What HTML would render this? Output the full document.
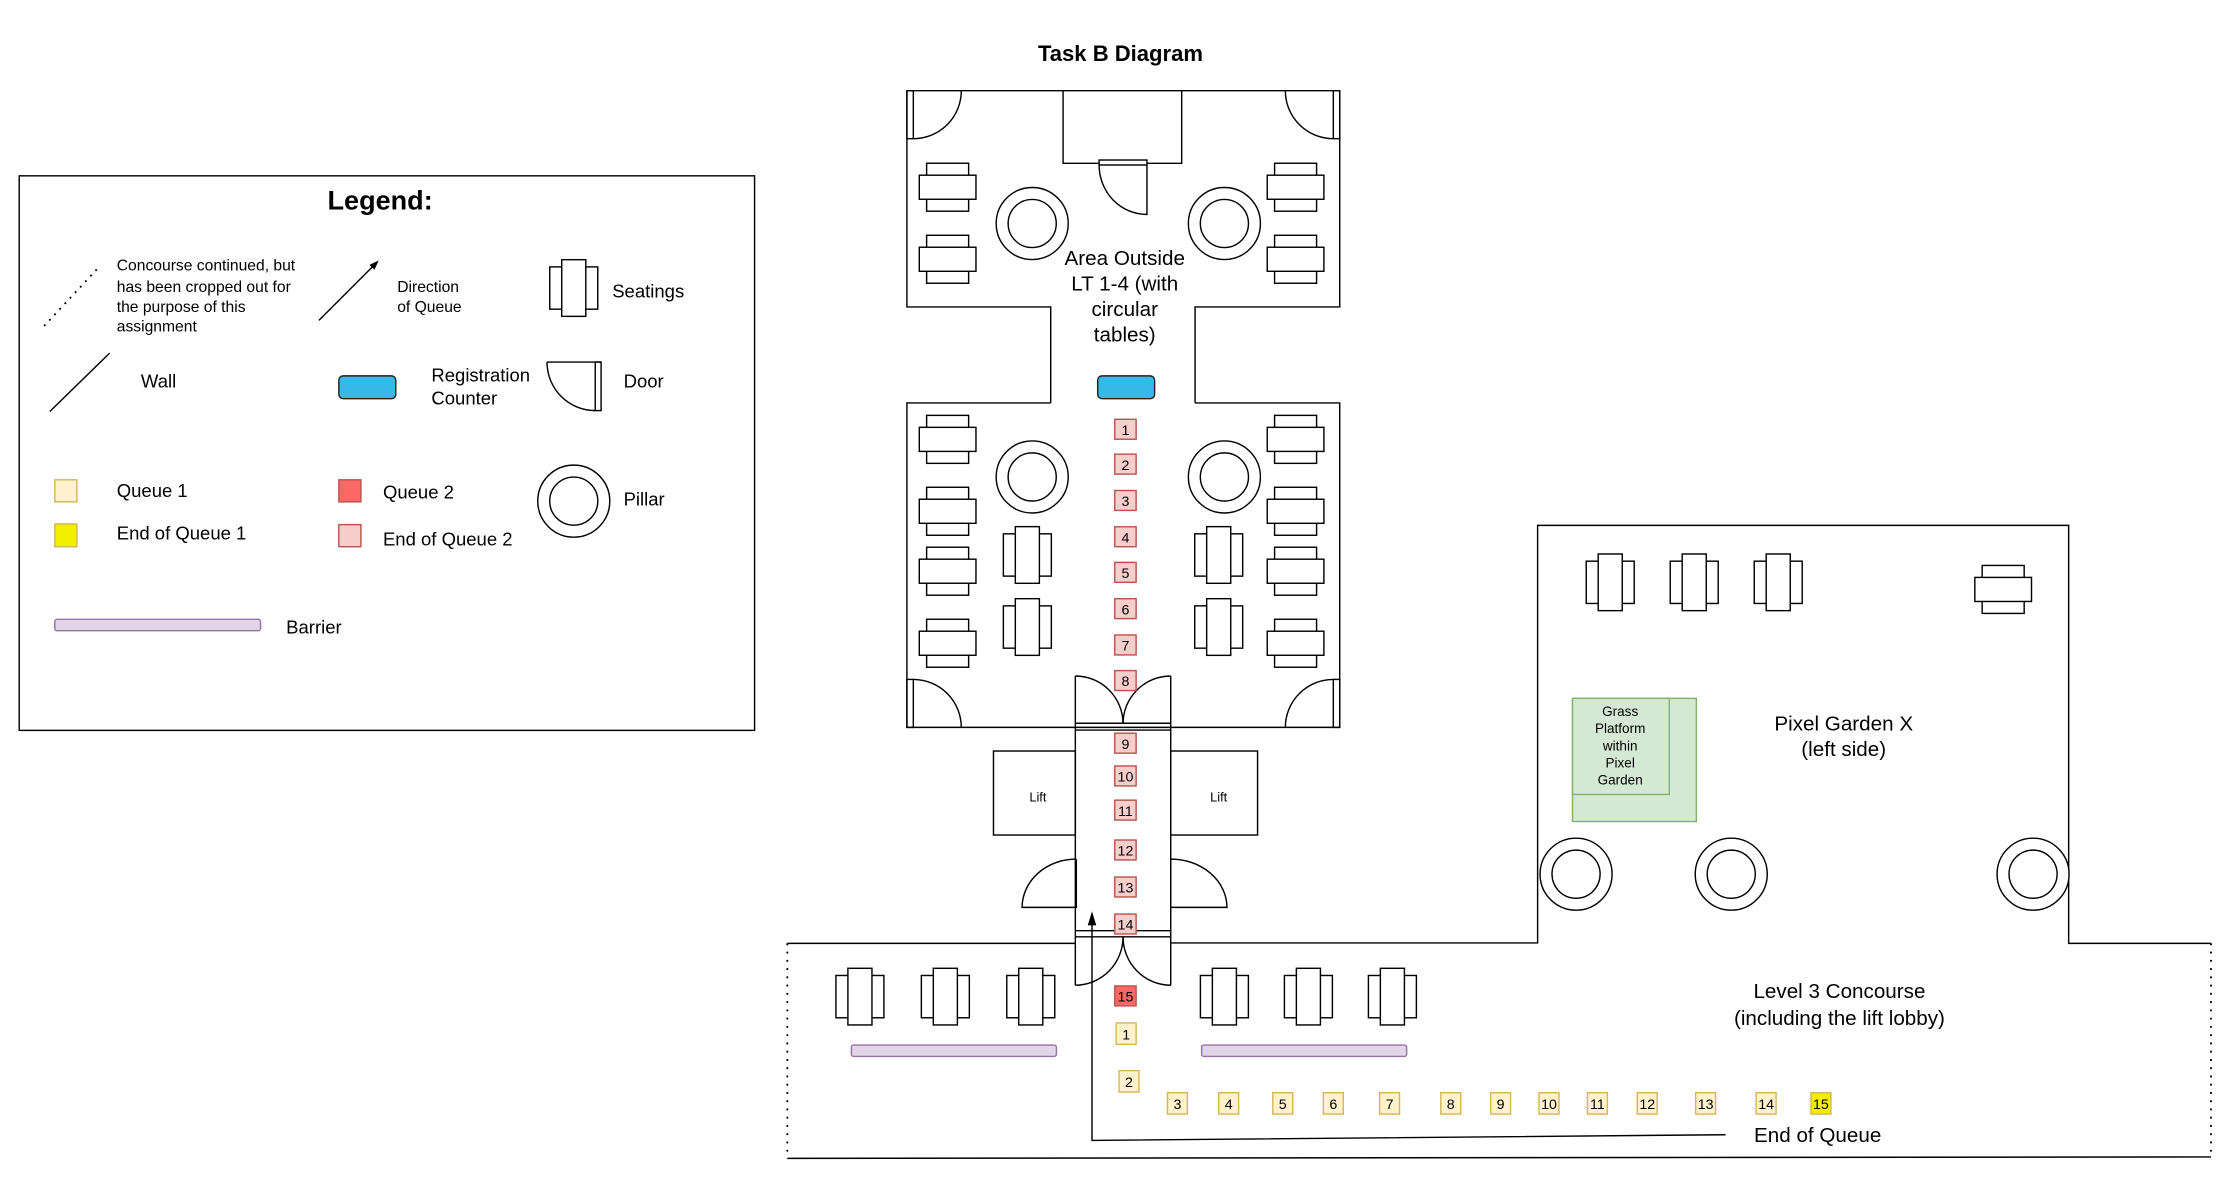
<!DOCTYPE html>
<html><head><meta charset="utf-8"><style>
html,body{margin:0;padding:0;background:#fff;}
svg{display:block;}
text{font-family:"Liberation Sans",Arial,sans-serif;fill:#000;}
</style></head><body>
<svg width="2221" height="1181" viewBox="0 0 1560 829.5" preserveAspectRatio="none" xmlns="http://www.w3.org/2000/svg">
<defs>
<g id="sh" fill="#fff" stroke="#000" stroke-width="1"><rect x="-14.75" y="-16.85" width="29.5" height="33.7"/><rect x="-19.9" y="-8.45" width="39.8" height="16.9"/></g>
<g id="sv" fill="#fff" stroke="#000" stroke-width="1"><rect x="-16.85" y="-14.85" width="33.7" height="29.7"/><rect x="-8.45" y="-19.9" width="16.9" height="39.8"/></g>
<g id="pil" fill="#fff" stroke="#000" stroke-width="1"><circle r="25.3"/><circle r="16.9"/></g>
</defs>

<!-- Legend -->
<rect x="13.5" y="123.5" width="516.5" height="389.5" fill="#fff" stroke="#000" stroke-width="1"/>
<text x="267" y="147" font-size="19" font-weight="bold" text-anchor="middle">Legend:</text>
<line x1="31" y1="229" x2="70" y2="187" stroke="#000" stroke-width="1.3" stroke-dasharray="1.3,4"/>
<g font-size="11"><text x="82" y="190">Concourse continued, but</text><text x="82" y="205">has been cropped out for</text><text x="82" y="219">the purpose of this</text><text x="82" y="233">assignment</text></g>
<line x1="224" y1="225" x2="264" y2="185" stroke="#000" stroke-width="1"/>
<polygon points="266,183 259.5,186 263,189.5" fill="#000"/>
<text x="279" y="205" font-size="11">Direction</text><text x="279" y="219" font-size="11">of Queue</text>
<use href="#sv" x="403" y="202.3"/>
<text x="430" y="209" font-size="13">Seatings</text>
<line x1="35" y1="289" x2="77" y2="248" stroke="#000" stroke-width="1"/>
<text x="99" y="272" font-size="13">Wall</text>
<rect x="238" y="264" width="40" height="16" rx="3" fill="#35b9e6" stroke="#222" stroke-width="1"/>
<text x="303" y="268" font-size="13">Registration</text><text x="303" y="284" font-size="13">Counter</text>
<g fill="none" stroke="#000" stroke-width="1"><line x1="384.2" y1="254.3" x2="422.2" y2="254.3"/><rect x="418.1" y="254.3" width="4.1" height="34.1"/><path d="M384.2,254.3 A33.9 34.1 0 0 0 418.1 288.4"/></g>
<text x="438" y="272" font-size="13">Door</text>
<rect x="38.5" y="337" width="15.5" height="15.5" fill="#fff2cc" stroke="#d6b656"/>
<text x="82" y="349" font-size="13">Queue 1</text>
<rect x="38.5" y="368" width="15.5" height="16" fill="#f2ee00" stroke="#d6b656"/>
<text x="82" y="379" font-size="13">End of Queue 1</text>
<rect x="238" y="337" width="15.5" height="15.5" fill="#ff6666" stroke="#b85450"/>
<text x="269" y="350" font-size="13">Queue 2</text>
<rect x="238" y="368.5" width="15.5" height="15.5" fill="#f8cecc" stroke="#b85450"/>
<text x="269" y="383" font-size="13">End of Queue 2</text>
<use href="#pil" x="403" y="352"/>
<text x="438" y="355" font-size="13">Pillar</text>
<rect x="38.5" y="435" width="144.5" height="8" rx="1.5" fill="#e1d5e7" stroke="#9673a6"/>
<text x="201" y="445" font-size="13">Barrier</text>

<!-- Title -->
<text x="787" y="43" font-size="15.5" font-weight="bold" text-anchor="middle">Task B Diagram</text>

<!-- Building walls -->
<g fill="none" stroke="#000" stroke-width="1">
<path d="M738,283 V215.6 H637 V63.7 H941 V215.6 H839.4 V283"/>
<path d="M738,283 H637 V510.9 H941 V283 H839.4"/>
<path d="M746.7,63.7 V114.7 H830 V63.7"/>
<rect x="772" y="112.4" width="33.6" height="3.5" fill="#fff"/>
<path d="M805.6,115.9 V150.6 A33.6 34.7 0 0 1 772 115.9"/>
<!-- corner doors -->
<rect x="637" y="63.7" width="4.5" height="33.7"/><path d="M641.5,97.4 A33.7 33.7 0 0 0 675.2 63.7"/>
<rect x="936.5" y="63.7" width="4.5" height="33.7"/><path d="M936.5,97.4 A33.7 33.7 0 0 1 902.8 63.7"/>
<rect x="637" y="477.2" width="4.5" height="33.7"/><path d="M641.5,477.2 A33.7 33.7 0 0 1 675.2 510.9"/>
<rect x="936.5" y="477.2" width="4.5" height="33.7"/><path d="M936.5,477.2 A33.7 33.7 0 0 0 902.8 510.9"/>
<!-- top double doors -->
<line x1="755.3" y1="474.8" x2="755.3" y2="511"/><line x1="822.3" y1="474.8" x2="822.3" y2="511"/>
<path d="M755.3,474.8 A33.5 33.5 0 0 1 788.8 508.3"/><path d="M822.3,474.8 A33.5 33.5 0 0 0 788.8 508.3"/>
<line x1="755.3" y1="508" x2="822.3" y2="508"/><line x1="755.3" y1="512.8" x2="822.3" y2="512.8"/>
<!-- corridor -->
<line x1="755.3" y1="511" x2="755.3" y2="692"/><line x1="822.3" y1="511" x2="822.3" y2="692"/>
<rect x="697.8" y="527.5" width="57.5" height="59"/>
<rect x="822.3" y="527.5" width="61" height="59"/>
<!-- lift doors -->
<path d="M756,603.4 V637.3 H717.9 A38 34 0 0 1 756 603.4"/>
<path d="M822.3,603.4 V637.3 H861.8 A39.5 34 0 0 0 822.3 603.4"/>
<!-- lower double doors -->
<line x1="755.3" y1="653.7" x2="822.3" y2="653.7"/><line x1="755.3" y1="658" x2="822.3" y2="658"/>
<path d="M788.8,658 A33.5 34 0 0 1 755.3 692"/><path d="M788.8,658 A33.5 34 0 0 0 822.3 692"/>
<!-- concourse -->
<path d="M553,662.6 H755.3"/>
<path d="M822.3,662.3 H1080 V369 H1453 V662.6 H1553"/>
<line x1="553" y1="813.6" x2="1553" y2="812.6"/>
</g>
<line x1="553" y1="662.6" x2="553" y2="813.6" stroke="#000" stroke-width="1.3" stroke-dasharray="1.3,4.5"/>
<line x1="1553" y1="662.6" x2="1553" y2="812.6" stroke="#000" stroke-width="1.3" stroke-dasharray="1.3,4.5"/>

<!-- area label -->
<g font-size="14.5" text-anchor="middle"><text x="790" y="186">Area Outside</text><text x="790" y="204">LT 1-4 (with</text><text x="790" y="222">circular</text><text x="790" y="240">tables)</text></g>
<rect x="771" y="264" width="40" height="16" rx="3" fill="#35b9e6" stroke="#222" stroke-width="1"/>

<!-- seats -->
<use href="#sh" x="665.6" y="131.5"/><use href="#sh" x="665.6" y="182.1"/>
<use href="#sh" x="910" y="131.5"/><use href="#sh" x="910" y="182.1"/>
<use href="#sh" x="665.6" y="308.6"/><use href="#sh" x="665.6" y="359.1"/><use href="#sh" x="665.6" y="401.2"/><use href="#sh" x="665.6" y="451.8"/>
<use href="#sh" x="910" y="308.6"/><use href="#sh" x="910" y="359.1"/><use href="#sh" x="910" y="401.2"/><use href="#sh" x="910" y="451.8"/>
<use href="#sv" x="721.6" y="389.8"/><use href="#sv" x="721.6" y="440.4"/>
<use href="#sv" x="856" y="389.8"/><use href="#sv" x="856" y="440.4"/>
<use href="#sv" x="604" y="700"/><use href="#sv" x="664" y="700"/><use href="#sv" x="724" y="700"/>
<use href="#sv" x="860" y="700"/><use href="#sv" x="919" y="700"/><use href="#sv" x="978" y="700"/>
<use href="#sv" x="1131" y="409"/><use href="#sv" x="1190" y="409"/><use href="#sv" x="1249" y="409"/>
<use href="#sh" x="1407" y="414"/>
<!-- pillars -->
<use href="#pil" x="725" y="157"/><use href="#pil" x="860" y="157"/>
<use href="#pil" x="725" y="335"/><use href="#pil" x="860" y="335"/>
<use href="#pil" x="1107" y="614"/><use href="#pil" x="1216" y="614"/><use href="#pil" x="1428" y="614"/>

<!-- barriers -->
<rect x="598" y="734" width="144" height="8" rx="1.5" fill="#e1d5e7" stroke="#9673a6"/>
<rect x="844" y="734" width="144" height="8" rx="1.5" fill="#e1d5e7" stroke="#9673a6"/>

<!-- lifts -->
<text x="729" y="563" font-size="9" text-anchor="middle">Lift</text>
<text x="856" y="563" font-size="9" text-anchor="middle">Lift</text>

<!-- green -->
<rect x="1104.5" y="490.5" width="87" height="86.5" fill="#d5e8d4" stroke="#82b366"/>
<rect x="1104.5" y="490.5" width="68" height="67.5" fill="#d5e8d4" stroke="#82b366"/>
<g font-size="9.5" text-anchor="middle"><text x="1138" y="503">Grass</text><text x="1138" y="515">Platform</text><text x="1138" y="527">within</text><text x="1138" y="539">Pixel</text><text x="1138" y="551">Garden</text></g>
<g font-size="14.5" text-anchor="middle"><text x="1295" y="513">Pixel Garden X</text><text x="1295" y="531">(left side)</text>
<text x="1292" y="701">Level 3 Concourse</text><text x="1292" y="720">(including the lift lobby)</text></g>
<text x="1232" y="802" font-size="14.5">End of Queue</text>

<!-- arrow -->
<path d="M1212,797 L767,801 V645" fill="none" stroke="#000" stroke-width="1"/>
<polygon points="767,640 764,650 770,650" fill="#000"/>

<!-- queue 2 -->
<g font-size="10" text-anchor="middle">
<g fill="#f8cecc" stroke="#b85450">
<rect x="783" y="294.5" width="15" height="14"/><rect x="783" y="319" width="15" height="14"/><rect x="783" y="344.5" width="15" height="14"/><rect x="783" y="370" width="15" height="14"/><rect x="783" y="395" width="15" height="14"/><rect x="783" y="420.5" width="15" height="14"/><rect x="783" y="446" width="15" height="14"/><rect x="783" y="471" width="15" height="14"/><rect x="783" y="515" width="15" height="14"/><rect x="783" y="538" width="15" height="14"/><rect x="783" y="562" width="15" height="14"/><rect x="783" y="590" width="15" height="14"/><rect x="783" y="616" width="15" height="14"/><rect x="783" y="642" width="15" height="14"/>
</g>
<rect x="783" y="692.5" width="15" height="14" fill="#ff6666" stroke="#b85450"/>
<text x="790.5" y="305.5">1</text><text x="790.5" y="330">2</text><text x="790.5" y="355.5">3</text><text x="790.5" y="381">4</text><text x="790.5" y="406">5</text><text x="790.5" y="431.5">6</text><text x="790.5" y="457">7</text><text x="790.5" y="482">8</text><text x="790.5" y="526">9</text><text x="790.5" y="549">10</text><text x="790.5" y="573">11</text><text x="790.5" y="601">12</text><text x="790.5" y="627">13</text><text x="790.5" y="653">14</text><text x="790.5" y="703.5">15</text>
<!-- queue 1 -->
<g fill="#fff2cc" stroke="#d6b656">
<rect x="784" y="718.5" width="14" height="15"/><rect x="786" y="752" width="14" height="15"/>
<rect x="820" y="767.5" width="14" height="15"/><rect x="856" y="767.5" width="14" height="15"/><rect x="894" y="767.5" width="14" height="15"/><rect x="929.5" y="767.5" width="14" height="15"/><rect x="969" y="767.5" width="14" height="15"/><rect x="1012" y="767.5" width="14" height="15"/><rect x="1047" y="767.5" width="14" height="15"/><rect x="1081" y="767.5" width="14" height="15"/><rect x="1115" y="767.5" width="14" height="15"/><rect x="1150" y="767.5" width="14" height="15"/><rect x="1191" y="767.5" width="14" height="15"/><rect x="1233.5" y="767.5" width="14" height="15"/>
</g>
<rect x="1272" y="767.5" width="14" height="15" fill="#f2ee00" stroke="#d6b656"/>
<text x="791" y="730">1</text><text x="793" y="763.5">2</text>
<text x="827" y="779">3</text><text x="863" y="779">4</text><text x="901" y="779">5</text><text x="936.5" y="779">6</text><text x="976" y="779">7</text><text x="1019" y="779">8</text><text x="1054" y="779">9</text><text x="1088" y="779">10</text><text x="1122" y="779">11</text><text x="1157" y="779">12</text><text x="1198" y="779">13</text><text x="1240.5" y="779">14</text><text x="1279" y="779">15</text>
</g>
</svg>
</body></html>
